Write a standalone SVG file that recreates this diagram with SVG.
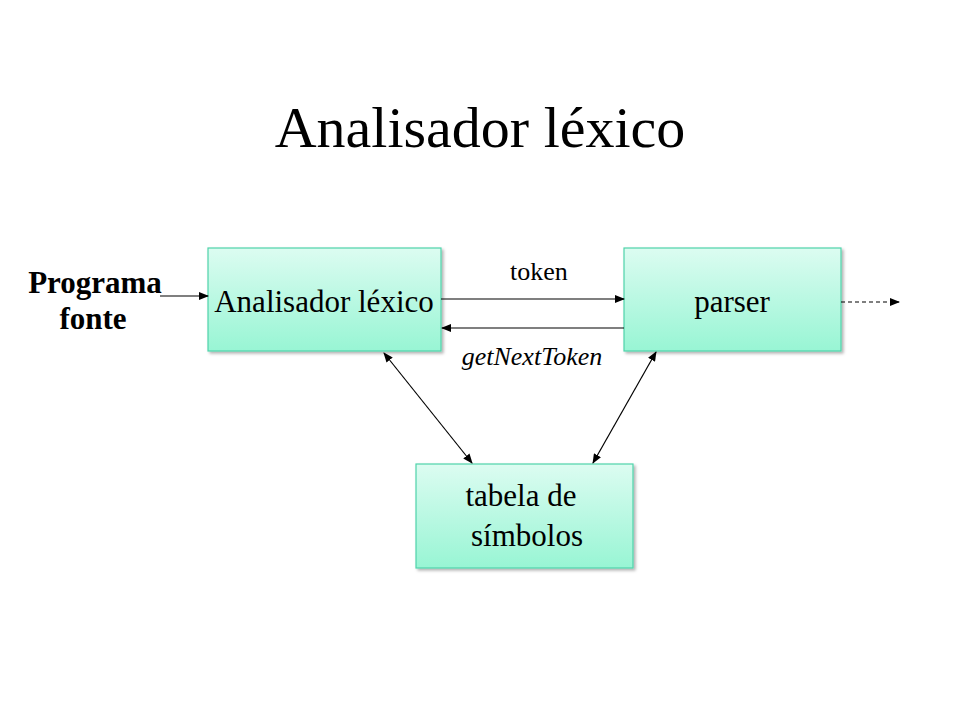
<svg xmlns="http://www.w3.org/2000/svg" width="960" height="720" viewBox="0 0 960 720">
<style>
.box{fill:url(#g);stroke:#4fd3ab;stroke-width:1.2}
.t{font-family:"Liberation Serif",serif;fill:#000}
.bt{font-size:31px}
.sm{font-size:26px}
.ln{stroke:#000;stroke-width:1.2;fill:none}
</style>
<defs>
<linearGradient id="g" x1="0" y1="0" x2="0" y2="1">
<stop offset="0" stop-color="#dcfcf1"/>
<stop offset="1" stop-color="#98f5d4"/>
</linearGradient>
<filter id="sh" x="-10%" y="-10%" width="130%" height="130%">
<feDropShadow dx="2" dy="2" stdDeviation="1.5" flood-color="#000" flood-opacity="0.3"/>
</filter>
<marker id="a" markerWidth="10" markerHeight="8" refX="9" refY="4" orient="auto-start-reverse" markerUnits="userSpaceOnUse">
<path d="M0,0 L10,4 L0,8 z" fill="#000"/>
</marker>
</defs>
<rect width="960" height="720" fill="#fff"/>
<text class="t" x="480" y="147" font-size="58" text-anchor="middle">Analisador léxico</text>
<g id="programa">
<text class="t" x="95" y="293" font-size="31" font-weight="bold" text-anchor="middle">Programa</text>
<text class="t" x="93" y="329" font-size="31" font-weight="bold" text-anchor="middle">fonte</text>
</g>
<g id="lexico">
<rect class="box" filter="url(#sh)" x="208" y="248" width="233" height="103"/>
<text class="t bt" x="324" y="312" text-anchor="middle">Analisador léxico</text>
</g>
<g id="parser">
<rect class="box" filter="url(#sh)" x="624" y="248" width="217" height="103"/>
<text class="t bt" x="732" y="312" text-anchor="middle">parser</text>
</g>
<g id="tabela">
<rect class="box" filter="url(#sh)" x="416" y="464" width="217" height="104"/>
<text class="t bt" x="521" y="506" text-anchor="middle">tabela de</text>
<text class="t bt" x="527" y="546" text-anchor="middle">símbolos</text>
</g>
<g id="connectors">
<line class="ln" x1="160" y1="296" x2="208" y2="296" marker-end="url(#a)"/>
<line class="ln" x1="441" y1="299" x2="624" y2="299" marker-end="url(#a)"/>
<line class="ln" x1="624" y1="328" x2="442" y2="328" marker-end="url(#a)"/>
<line class="ln" x1="841" y1="302" x2="899" y2="302" stroke-dasharray="4,3" marker-end="url(#a)"/>
<line class="ln" x1="384" y1="353" x2="472" y2="463" marker-start="url(#a)" marker-end="url(#a)"/>
<line class="ln" x1="656" y1="352" x2="593" y2="463" marker-start="url(#a)" marker-end="url(#a)"/>
<text class="t sm" x="539" y="280" text-anchor="middle">token</text>
<text class="t sm" x="532" y="365" font-style="italic" text-anchor="middle">getNextToken</text>
</g>
</svg>
